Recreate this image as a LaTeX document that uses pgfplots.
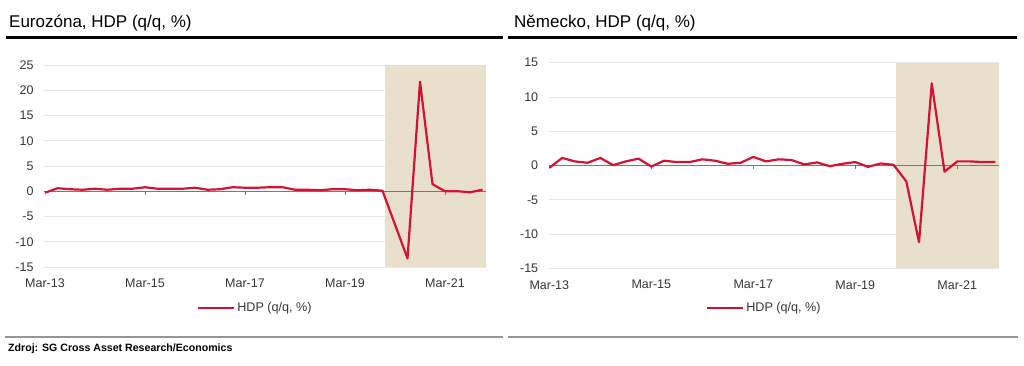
\documentclass[border=0pt]{standalone}
\usepackage{pgfplots}
\pgfplotsset{compat=1.18}
\usepackage{fontspec}
\setmainfont{Liberation Sans}
\definecolor{sgred}{RGB}{214,18,52}
\definecolor{shadec}{RGB}{232,224,203}
\definecolor{gridc}{RGB}{232,232,232}
\definecolor{zeroc}{RGB}{120,120,120}
\definecolor{txt}{RGB}{55,55,55}
\definecolor{sepc}{RGB}{150,150,150}

\pgfplotsset{
 hdp/.style={
  scale only axis,
  axis line style={draw=none},
  tick style={draw=none},
  ymajorgrids, grid style={gridc, line width=0.8pt},
  xtick={0,8,16,24,32},
  xticklabels={Mar-13,Mar-15,Mar-17,Mar-19,Mar-21},
  ticklabel style={font=\fontsize{12.5}{14}\selectfont, text=txt},
  /pgf/number format/assume math mode=true,
  yticklabel style={xshift=-7pt},
  xticklabel style={yshift=-8.5pt},
  legend style={draw=none, fill=none, font=\fontsize{12.6}{14}\selectfont, text=txt, inner sep=0pt, anchor=west},
  legend image code/.code={\draw[#1] (0pt,0pt) -- (36pt,0pt);},
 }
}

\begin{document}
\begin{tikzpicture}
\path[use as bounding box] (0pt,0pt) rectangle (1024pt,365pt);

% titles and rules
\node[anchor=base west, inner sep=0pt, font=\fontsize{17}{20}\selectfont] at (9pt,337pt) {Eurozóna, HDP (q/q, \%)};
\node[anchor=base west, inner sep=0pt, font=\fontsize{17}{20}\selectfont] at (514pt,337pt) {Německo, HDP (q/q, \%)};
\draw[line width=3pt] (6pt,327.5pt) -- (503pt,327.5pt);
\draw[line width=3pt] (508pt,327.5pt) -- (1017pt,327.5pt);
\draw[sepc, line width=1.5pt] (5pt,28pt) -- (503pt,28pt);
\draw[sepc, line width=1.5pt] (508pt,28pt) -- (1018pt,28pt);
\node[anchor=base west, inner sep=0pt, font=\fontsize{10.6}{12}\selectfont\bfseries] at (8pt,14pt) {Zdroj: SG Cross Asset Research/Economics};

% Eurozone
\begin{axis}[hdp, at={(44pt,98pt)}, anchor=south west, width=442pt, height=202pt,
  xmin=-0.08, xmax=35.28, ymin=-15, ymax=25, ytick={-15,-10,...,25},
  legend style={at={(0.346,-0.203)}}]
\fill[shadec] (axis cs:27.2,-15) rectangle (axis cs:35.28,25);
\draw[zeroc, line width=1pt] (axis cs:-0.08,0) -- (axis cs:35.28,0);
\draw[zeroc, line width=0.8pt] (axis cs:8,0) -- ++(0pt,-3.5pt);
\draw[zeroc, line width=0.8pt] (axis cs:16,0) -- ++(0pt,-3.5pt);
\draw[zeroc, line width=0.8pt] (axis cs:24,0) -- ++(0pt,-3.5pt);
\draw[zeroc, line width=0.8pt] (axis cs:32,0) -- ++(0pt,-3.5pt);
\addplot[sgred, line width=2.2pt, line join=round, mark=none] coordinates {
(0,-0.3)(1,0.6)(2,0.4)(3,0.3)(4,0.5)(5,0.3)(6,0.5)(7,0.5)(8,0.8)(9,0.5)
(10,0.5)(11,0.5)(12,0.7)(13,0.3)(14,0.4)(15,0.8)(16,0.7)(17,0.7)(18,0.8)(19,0.8)
(20,0.3)(21,0.3)(22,0.2)(23,0.4)(24,0.4)(25,0.2)(26,0.3)(27,0.1)(28,-6.6)(29,-13.3)
(30,21.7)(31,1.4)(32,0.0)(33,0.0)(34,-0.2)(35,0.3)};
\addlegendentry{HDP (q/q, \%)}
\end{axis}

% Germany
\begin{axis}[hdp, at={(548.7pt,96.7pt)}, anchor=south west, width=450.6pt, height=205.6pt,
  xmin=-0.05, xmax=35.3, ymin=-15, ymax=15, ytick={-15,-10,...,15},
  legend style={at={(0.349,-0.193)}}]
\fill[shadec] (axis cs:27.23,-15) rectangle (axis cs:35.3,15);
\draw[zeroc, line width=1pt] (axis cs:-0.05,0) -- (axis cs:35.3,0);
\draw[zeroc, line width=0.8pt] (axis cs:8,0) -- ++(0pt,-3.5pt);
\draw[zeroc, line width=0.8pt] (axis cs:16,0) -- ++(0pt,-3.5pt);
\draw[zeroc, line width=0.8pt] (axis cs:24,0) -- ++(0pt,-3.5pt);
\draw[zeroc, line width=0.8pt] (axis cs:32,0) -- ++(0pt,-3.5pt);
\addplot[sgred, line width=2.2pt, line join=round, mark=none] coordinates {
(0,-0.35)(1,1.1)(2,0.6)(3,0.4)(4,1.1)(5,0.05)(6,0.6)(7,1.0)(8,-0.15)(9,0.7)
(10,0.5)(11,0.5)(12,0.9)(13,0.7)(14,0.25)(15,0.4)(16,1.25)(17,0.6)(18,0.9)(19,0.8)
(20,0.15)(21,0.45)(22,-0.1)(23,0.25)(24,0.5)(25,-0.2)(26,0.3)(27,0.1)(28,-2.3)(29,-11.2)
(30,12.0)(31,-0.9)(32,0.6)(33,0.6)(34,0.5)(35,0.5)};
\addlegendentry{HDP (q/q, \%)}
\end{axis}
\end{tikzpicture}
\end{document}
